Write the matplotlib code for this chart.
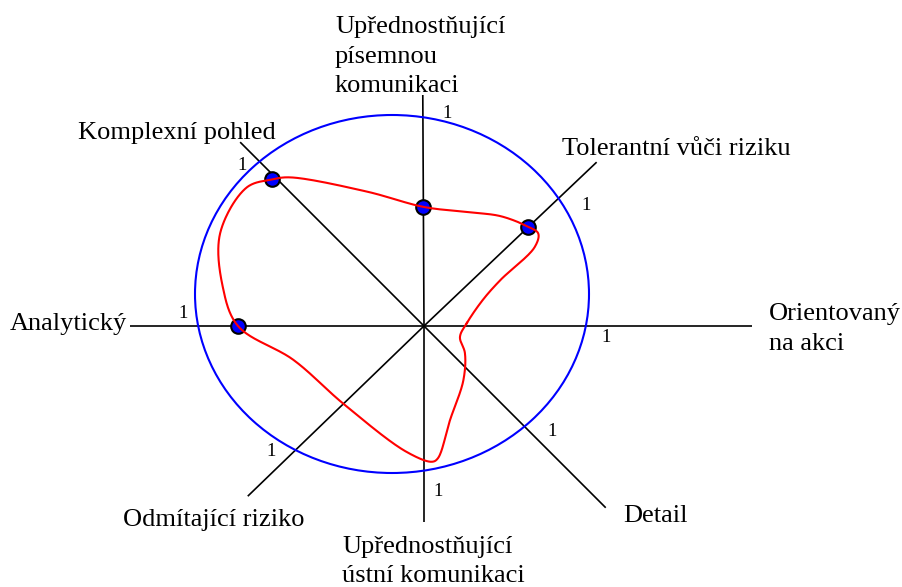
import numpy as np
import matplotlib
matplotlib.use("Agg")
import matplotlib.pyplot as plt
from matplotlib.patches import Ellipse

# ---------------- data ----------------
# axis directions (degrees, counter-clockwise from "Orientovaný na akci")
axis_angles = [0, 43.5, 90.3, 135, 180, 224, 270, 315]
axis_labels = ["Orientovaný\nna akci", "Tolerantní vůči riziku",
               "Upřednostňující\npísemnou\nkomunikaci", "Komplexní pohled",
               "Analytický", "Odmítající riziko",
               "Upřednostňující\nústní komunikaci", "Detail"]
scale_labels = ["1"] * 8

# marked profile points (axis angle, score)
dot_angles = [43.5, 90.3, 136, 180]
dot_values = [1.44, 1.19, 2.11, 1.86]

# traced profile curve (angle, score)
profile_angles = [4, 24, 31, 35.5, 39, 43.5, 55, 69, 90, 113, 132, 136, 142,
                  155.5, 169, 180, 194.5, 224, 262, 273.4, 276, 285.5, 306,
                  326.6, 343]
profile_values = [0.43, 0.645, 0.89, 1.36, 1.47, 1.44, 1.34, 1.22, 1.19, 1.46,
                  2.00, 2.11, 2.25, 2.24, 2.05, 1.86, 1.35, 1.12, 1.27, 1.36,
                  1.33, 0.975, 0.67, 0.49, 0.376]

# ---------------- layout ----------------
W, H = 903, 587
CX, CY = 424, 326          # centre of the axes star
UNIT = 100                 # pixels per score unit
arm_len = [328, 238, 231, 260, 294, 245, 196, 257]
ell_center = (392, 294)
ell_w, ell_h = 394, 358

label_pos = [(769, 320), (562, 155), (335, 33), (78, 139),
             (10, 330), (123, 526), (342, 553), (623, 522)]
scale_pos = [(606, 338), (586, 206), (447, 114), (242, 165),
             (183, 313), (271, 452), (438, 491), (552, 431)]

SERIF = ["Liberation Serif", "DejaVu Serif"]
LABEL_FS = 19
NUM_FS = 13.5


def to_xy(angle_deg, r):
    a = np.deg2rad(angle_deg)
    return CX + r * np.cos(a), CY - r * np.sin(a)


def catmull_rom_closed(pts, n=40, alpha=0.5):
    pts = np.asarray(pts, float)
    m = len(pts)
    out = []
    for i in range(m):
        p0, p1, p2, p3 = pts[(i - 1) % m], pts[i], pts[(i + 1) % m], pts[(i + 2) % m]
        t0 = 0.0
        t1 = t0 + np.linalg.norm(p1 - p0) ** alpha + 1e-9
        t2 = t1 + np.linalg.norm(p2 - p1) ** alpha + 1e-9
        t3 = t2 + np.linalg.norm(p3 - p2) ** alpha + 1e-9
        t = np.linspace(t1, t2, n, endpoint=False)[:, None]
        a1 = (t1 - t) / (t1 - t0) * p0 + (t - t0) / (t1 - t0) * p1
        a2 = (t2 - t) / (t2 - t1) * p1 + (t - t1) / (t2 - t1) * p2
        a3 = (t3 - t) / (t3 - t2) * p2 + (t - t2) / (t3 - t2) * p3
        b1 = (t2 - t) / (t2 - t0) * a1 + (t - t0) / (t2 - t0) * a2
        b2 = (t3 - t) / (t3 - t1) * a2 + (t - t1) / (t3 - t1) * a3
        c = (t2 - t) / (t2 - t1) * b1 + (t - t1) / (t2 - t1) * b2
        out.append(c)
    out = np.vstack(out)
    return np.vstack([out, out[:1]])


fig = plt.figure(figsize=(W / 100, H / 100), dpi=100)
ax = fig.add_axes([0, 0, 1, 1])
ax.set_xlim(0, W)
ax.set_ylim(H, 0)
ax.axis("off")

# axes arms
for ang, ln in zip(axis_angles, arm_len):
    x1, y1 = to_xy(ang, ln)
    ax.plot([CX, x1], [CY, y1], color="black", lw=1.2, zorder=2,
            solid_capstyle="butt")

# unit ellipse
ax.add_patch(Ellipse(ell_center, ell_w, ell_h, fill=False, edgecolor="#0000ff",
                     lw=1.5, zorder=3))

# dots
for ang, v in zip(dot_angles, dot_values):
    x, y = to_xy(ang, v * UNIT)
    ax.plot(x, y, "o", ms=10.5, mfc="#0000ff", mec="black", mew=1.5, zorder=4)

# profile curve
pts = [to_xy(a, v * UNIT) for a, v in zip(profile_angles, profile_values)]
curve = catmull_rom_closed(pts)
ax.plot(curve[:, 0], curve[:, 1], color="#ff0000", lw=1.5, zorder=5)

# labels
for txt, (x, y) in zip(axis_labels, label_pos):
    lines = txt.split("\n")
    for k, line in enumerate(lines):
        ax.text(x, y + k * 29.5, line, family=SERIF, fontsize=LABEL_FS,
                ha="left", va="baseline", color="black")

for txt, (x, y) in zip(scale_labels, scale_pos):
    ax.text(x, y, txt, family=SERIF, fontsize=NUM_FS, ha="center", va="center")

fig.savefig("out.png", dpi=100)
